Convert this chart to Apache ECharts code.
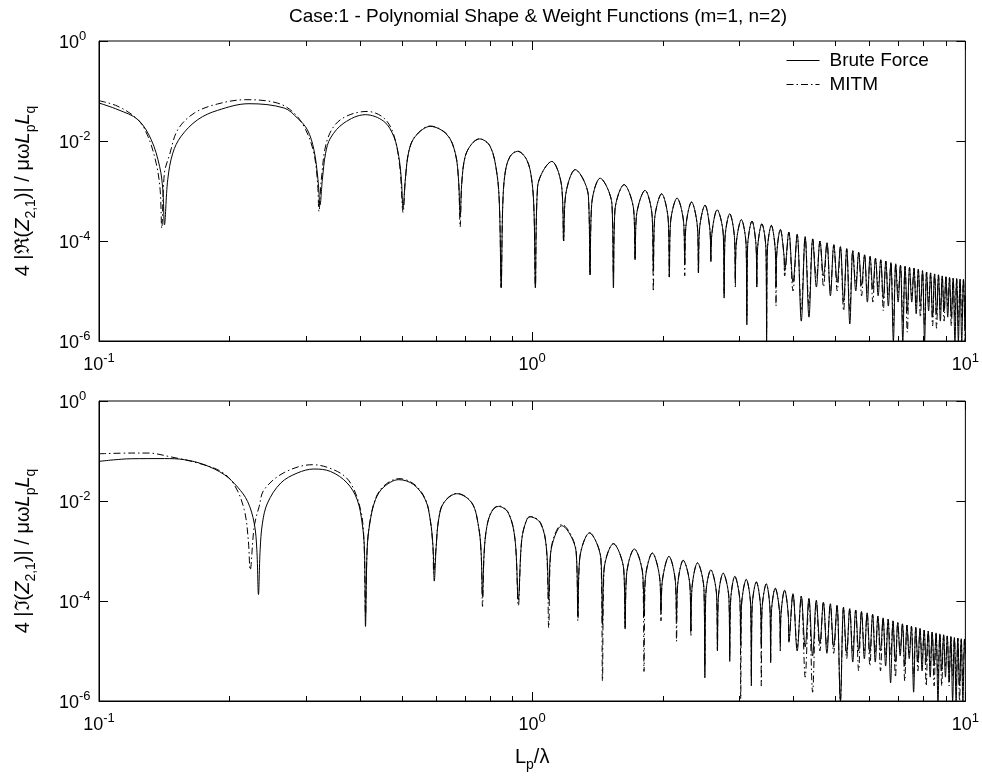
<!DOCTYPE html>
<html>
<head>
<meta charset="utf-8">
<script src="https://cdn.jsdelivr.net/npm/echarts@6/dist/echarts.min.js"></script>
<style>
  html, body { margin: 0; padding: 0; background: #fff; }
  #chart { width: 982px; height: 776px; }
</style>
</head>
<body>
<div id="chart"></div>
<script>
// values, [L_p/lambda, magnitude]
const reBrute = [
  [0.1,0.0575],[0.1106,0.0423],[0.123,0.0267],[0.132,0.0106],[0.138,0.0031],[0.1404,0.00106],[0.1416,0.00021],
  [0.1441,0.00168],[0.148,0.0057],[0.1547,0.0124],[0.169,0.0267],[0.1878,0.041],[0.222,0.0557],[0.2675,0.0457],[0.287,0.0288],[0.3027,0.0168],[0.3134,0.0067],[0.3203,0.00168],[0.3238,0.00053],
  [0.3278,0.00168],[0.3335,0.0057],[0.3423,0.0115],[0.3677,0.0229],[0.412,0.0336],[0.4546,0.0247],[0.479,0.0124],[0.492,0.0049],[0.4989,0.00168],[0.5035,0.00045],
  [0.5095,0.00168],[0.519,0.0062],[0.5375,0.0124],[0.5817,0.0196],[0.6357,0.0134],[0.6645,0.0057],[0.676,0.00168],[0.682,0.00031],
  [0.688,0.0015],[0.7004,0.0049],[0.7256,0.0088],[0.756,0.011],[0.7998,0.0078],[0.8286,0.0023],[0.8404,0.00049],[0.848,0.0000115],
  [0.855,0.00049],[0.866,0.0023],[0.889,0.0049],[0.925,0.0062],[0.9714,0.0042],[0.9975,0.00168],[1.01,0.00036],[1.017,0.0000115],
  [1.029,0.0012],[1.11,0.0039],[1.17,0.0012],[1.182,0.0001],
  [1.194,0.0008],[1.257,0.00267],[1.348,0.0008],[1.36,0.000021],
  [1.372,0.00054],[1.435,0.0018],[1.528,0.00054],[1.54,0.0000115],
  [1.552,0.0004],[1.63,0.00134],[1.716,0.0004],[1.728,0.000042],
  [1.74,0.00031],[1.822,0.00103],[1.892,0.00031],[1.904,0.000025],
  [1.916,0.00026],[1.99,0.00088],[2.061,0.00026],[2.073,0.000019],
  [2.085,0.00022],[2.16,0.00072],[2.238,0.00022],[2.25,0.000034],
  [2.262,0.00018],[2.333,0.0006],[2.408,0.00018],[2.42,0.000023],
  [2.432,0.00016],[2.506,0.00052],[2.573,0.00016],[2.585,0.000039],
  [2.597,0.00013],[2.673,0.00042],[2.762,0.00013],[2.774,0.0000072],
  [2.786,0.00011],[2.858,0.00035],[2.932,0.00011],[2.944,0.0000156],
  [2.956,0.00008],[3.04,0.000267],[3.118,0.00008],[3.13,0.0000021],
  [3.142,0.000075],[3.217,0.00025],[3.288,0.000075],[3.3,0.000012],
  [3.312,0.000066],[3.39,0.00022],[3.465,0.000066],[3.477,0.000001],
  [3.489,0.00006],[3.565,0.000205],[3.643,0.00006],[3.655,0.000012],
  [3.667,0.00005],[3.74,0.00017],[3.814,0.00005],[3.826,0.000025],
  [3.913,0.00015],[4.0,0.000015],[4.09,0.000135],[4.18,0.0000025],
  [4.267,0.000122],[4.355,0.000003],[4.442,0.00011],[4.53,0.000012],
  [4.617,0.0001],[4.705,0.00002],[4.792,0.000092],[4.88,0.000008],
  [4.97,0.000084],[5.06,0.000015],[5.147,0.000077],[5.235,0.000006],
  [5.322,0.00007],[5.41,0.0000022],[5.497,0.000064],[5.585,0.00001],
  [5.672,0.000059],[5.76,0.000013],[5.85,0.000053],[5.94,0.000006],
  [6.027,0.000049],[6.115,0.000011],[6.202,0.000045],[6.29,0.000008],
  [6.377,0.000042],[6.465,0.000007],[6.552,0.0000395],[6.64,0.000005],
  [6.73,0.000037],[6.82,0.000001],[6.907,0.000035],[6.995,0.000006],
  [7.082,0.000033],[7.17,0.000001],[7.257,0.000031],[7.345,0.000004],
  [7.432,0.0000295],[7.52,0.000006],[7.61,0.0000285],[7.7,0.0000035],
  [7.787,0.000027],[7.875,0.000005],[7.962,0.0000255],[8.05,0.000001],
  [8.137,0.000024],[8.225,0.000004],[8.312,0.000023],[8.4,0.000003],
  [8.49,0.000022],[8.58,0.0000035],[8.667,0.000021],[8.755,0.0000025],
  [8.842,0.00002],[8.93,0.000004],[9.017,0.0000192],[9.105,0.000003],
  [9.192,0.0000185],[9.28,0.000003],[9.37,0.000018],[9.46,0.000001],
  [9.547,0.0000176],[9.635,0.000001],[9.722,0.0000174],[9.81,0.000001],
  [9.897,0.0000172],[9.985,0.000002],[10,0.000008]
];

const reMitm = [
  [0.1,0.064],[0.1106,0.0493],[0.123,0.0267],[0.1297,0.0124],[0.1355,0.0036],[0.1384,0.00106],[0.1396,0.00018],
  [0.1416,0.0023],[0.1455,0.0053],[0.152,0.0168],[0.166,0.0363],[0.1878,0.055],[0.2183,0.067],[0.258,0.0575],[0.282,0.0363],[0.3,0.0168],[0.3134,0.0057],[0.3195,0.0015],[0.322,0.00039],
  [0.326,0.00168],[0.3365,0.0106],[0.361,0.0267],[0.4159,0.039],[0.4546,0.0288],[0.479,0.0134],[0.4946,0.0031],[0.5035,0.00037],
  [0.5095,0.00168],[0.519,0.0062],[0.5375,0.0126],[0.5817,0.0199],[0.6357,0.0136],[0.6645,0.0057],[0.676,0.00168],[0.682,0.00019],
  [0.688,0.0015],[0.7004,0.0049],[0.7256,0.0088],[0.756,0.0111],[0.7998,0.0078],[0.8286,0.0023],[0.8404,0.00049],[0.848,0.000012],
  [0.855,0.00049],[0.866,0.0023],[0.889,0.0049],[0.925,0.0063],[0.9714,0.0042],[0.9975,0.00168],[1.01,0.00036],[1.017,0.000012],
  [1.029,0.0012],[1.11,0.0039],[1.17,0.0012],[1.182,0.0001],
  [1.194,0.0008],[1.257,0.00267],[1.348,0.0008],[1.36,0.000021],
  [1.372,0.00054],[1.435,0.0018],[1.528,0.00054],[1.54,0.00002],
  [1.552,0.0004],[1.63,0.00134],[1.716,0.0004],[1.728,0.000042],
  [1.74,0.00031],[1.822,0.00103],[1.892,0.00031],[1.904,0.0000098],
  [1.916,0.00026],[1.99,0.00088],[2.061,0.00026],[2.073,0.000019],
  [2.085,0.00022],[2.16,0.00072],[2.238,0.00022],[2.25,0.00002],
  [2.262,0.00018],[2.333,0.0006],[2.408,0.00018],[2.42,0.000023],
  [2.432,0.00016],[2.506,0.00052],[2.573,0.00016],[2.585,0.000039],
  [2.597,0.00013],[2.673,0.00042],[2.762,0.00013],[2.774,0.000009],
  [2.786,0.00011],[2.858,0.00035],[2.932,0.00011],[2.944,0.000012],
  [2.956,0.00008],[3.04,0.000267],[3.118,0.00008],[3.13,0.000003],
  [3.142,0.000075],[3.217,0.00025],[3.288,0.000075],[3.3,0.000012],
  [3.312,0.000066],[3.39,0.00022],[3.465,0.000066],[3.477,0.0000015],
  [3.489,0.00006],[3.565,0.000205],[3.643,0.00006],[3.655,0.000005],
  [3.667,0.00005],[3.74,0.00017],[3.814,0.00005],[3.826,0.00002],
  [3.913,0.00015],[4.0,0.00001],[4.09,0.000135],[4.18,0.000004],
  [4.267,0.000122],[4.355,0.000005],[4.442,0.00011],[4.53,0.000018],
  [4.617,0.0001],[4.705,0.000012],[4.792,0.000092],[4.88,0.00001],
  [4.97,0.000084],[5.06,0.00001],[5.147,0.000077],[5.235,0.000004],
  [5.322,0.00007],[5.41,0.000004],[5.497,0.000064],[5.585,0.000014],
  [5.672,0.000059],[5.76,0.000008],[5.85,0.000053],[5.94,0.000009],
  [6.027,0.000049],[6.115,0.000006],[6.202,0.000045],[6.29,0.000012],
  [6.377,0.000042],[6.465,0.000004],[6.552,0.0000395],[6.64,0.000008],
  [6.73,0.000037],[6.82,0.000002],[6.907,0.000035],[6.995,0.000009],
  [7.082,0.000033],[7.17,0.0000025],[7.257,0.000031],[7.345,0.0000015],
  [7.432,0.0000295],[7.52,0.000008],[7.61,0.0000285],[7.7,0.000005],
  [7.787,0.000027],[7.875,0.000003],[7.962,0.0000255],[8.05,0.000002],
  [8.137,0.000024],[8.225,0.000006],[8.312,0.000023],[8.4,0.000002],
  [8.49,0.000022],[8.58,0.0000018],[8.667,0.000021],[8.755,0.000004],
  [8.842,0.00002],[8.93,0.0000025],[9.017,0.0000192],[9.105,0.000005],
  [9.192,0.0000185],[9.28,0.000002],[9.37,0.000018],[9.46,0.000003],
  [9.547,0.0000176],[9.635,0.000002],[9.722,0.0000174],[9.81,0.000003],
  [9.897,0.0000172],[9.985,0.000001],[10,0.000008]
];

const imBrute = [
  [0.1,0.062],[0.1187,0.07],[0.1416,0.0705],[0.1575,0.067],[0.175,0.0532],[0.1947,0.0336],[0.2089,0.019],[0.2203,0.0098],[0.2282,0.0036],[0.2314,0.00106],[0.2334,0.000134],
  [0.2355,0.00106],[0.2384,0.0036],[0.2449,0.0091],[0.2628,0.0229],[0.287,0.0363],[0.3134,0.0436],[0.3423,0.039],[0.374,0.0229],[0.3945,0.0106],[0.405,0.0036],[0.41,0.00106],[0.4123,0.000031],
  [0.4159,0.00106],[0.4219,0.0036],[0.4346,0.0106],[0.4544,0.019],[0.492,0.0267],[0.5328,0.0212],[0.5666,0.0106],[0.5817,0.0042],[0.5902,0.00124],[0.5943,0.00025],
  [0.6004,0.00124],[0.6081,0.0042],[0.6245,0.0091],[0.67,0.014],[0.7256,0.0091],[0.7519,0.0031],[0.7624,0.0009],[0.768,0.000124],
  [0.7745,0.0009],[0.786,0.0031],[0.8069,0.0062],[0.836,0.0078],[0.8815,0.0057],[0.9129,0.00168],[0.929,0.000106],
  [0.946,0.00168],[0.9713,0.0042],[0.99,0.0048],[1.045,0.0036],[1.078,0.0012],[1.092,0.000106],
  [1.104,0.00096],[1.171,0.0032],[1.263,0.00096],[1.275,0.000049],
  [1.287,0.00069],[1.356,0.0023],[1.441,0.00069],[1.453,0.000034],
  [1.465,0.00042],[1.54,0.0014],[1.627,0.00042],[1.639,0.0000275],
  [1.651,0.00033],[1.721,0.0011],[1.8,0.00033],[1.812,0.000049],
  [1.824,0.00027],[1.894,0.00091],[1.971,0.00027],[1.983,0.000057],
  [1.995,0.00023],[2.069,0.00078],[2.142,0.00023],[2.154,0.000042],
  [2.166,0.0002],[2.232,0.00065],[2.313,0.0002],[2.325,0.000025],
  [2.337,0.00017],[2.408,0.00058],[2.492,0.00017],[2.504,0.0000029],
  [2.516,0.00013],[2.585,0.00042],[2.665,0.00013],[2.677,0.0000106],
  [2.689,0.00011],[2.76,0.00036],[2.846,0.00011],[2.858,0.0000062],
  [2.87,0.000093],[2.936,0.00031],[3.018,0.000093],[3.03,0.000013],
  [3.042,0.00008],[3.12,0.00027],[3.194,0.00008],[3.206,0.000002],
  [3.218,0.000072],[3.292,0.00024],[3.368,0.000072],[3.38,0.000012],
  [3.392,0.000066],[3.471,0.00022],[3.54,0.000066],[3.552,0.0000058],
  [3.564,0.000054],[3.64,0.00018],[3.727,0.000054],[3.739,0.000013],
  [3.751,0.00005],[3.826,0.000165],[3.902,0.00005],[3.914,0.000016],
  [4.0,0.00014],[4.09,0.00001],[4.18,0.000125],[4.268,0.000012],
  [4.354,0.000113],[4.44,0.000008],[4.528,0.000103],[4.615,0.000014],
  [4.702,0.000095],[4.79,0.000009],[4.878,0.000088],[4.965,0.000012],
  [5.055,0.000081],[5.146,0.000001],[5.233,0.000075],[5.32,0.000009],
  [5.408,0.00007],[5.495,0.000006],[5.582,0.000066],[5.67,0.00001],
  [5.757,0.000062],[5.845,0.000007],[5.932,0.000058],[6.02,0.000009],
  [6.107,0.000054],[6.195,0.000006],[6.282,0.00005],[6.37,0.00001],
  [6.457,0.000046],[6.545,0.000005],[6.632,0.000043],[6.72,0.0000023],
  [6.807,0.00004],[6.895,0.000006],[6.982,0.000037],[7.07,0.000008],
  [7.157,0.000035],[7.245,0.000005],[7.332,0.000033],[7.42,0.000007],
  [7.507,0.000031],[7.595,0.0000015],[7.682,0.0000295],[7.77,0.000006],
  [7.857,0.000028],[7.945,0.000004],[8.032,0.000026],[8.12,0.000006],
  [8.207,0.000025],[8.295,0.000003],[8.382,0.000024],[8.47,0.000005],
  [8.557,0.000023],[8.645,0.000001],[8.732,0.000022],[8.82,0.000004],
  [8.907,0.000021],[8.995,0.000003],[9.082,0.00002],[9.17,0.000003],
  [9.257,0.0000193],[9.345,0.000001],[9.432,0.0000186],[9.52,0.000001],
  [9.607,0.000018],[9.695,0.000002],[9.782,0.0000176],[9.87,0.000001],
  [9.957,0.0000174],[10,0.000009]
];

const imMitm = [
  [0.1,0.088],[0.1187,0.091],[0.1297,0.091],[0.1467,0.076],[0.169,0.0575],[0.1912,0.039],[0.2052,0.0212],[0.2164,0.0067],[0.2211,0.00168],[0.2234,0.00042],
  [0.2282,0.0031],[0.2343,0.0078],[0.2405,0.0168],[0.2675,0.037],[0.311,0.0532],[0.355,0.039],[0.3807,0.0229],[0.4017,0.0067],[0.4088,0.00168],[0.4123,0.00005],
  [0.4159,0.0011],[0.4219,0.0038],[0.4346,0.011],[0.4544,0.02],[0.492,0.028],[0.5328,0.022],[0.5666,0.011],[0.5817,0.0042],[0.5902,0.0011],[0.5925,0.00036],
  [0.6004,0.0013],[0.6081,0.0043],[0.6245,0.0093],[0.67,0.0142],[0.7256,0.0092],[0.7519,0.0031],[0.7624,0.0009],[0.768,0.000078],
  [0.7745,0.0009],[0.786,0.0031],[0.8069,0.0063],[0.836,0.008],[0.8815,0.0058],[0.9129,0.0017],[0.929,0.00008],
  [0.946,0.0017],[0.9713,0.0043],[0.99,0.0049],[1.045,0.0037],[1.078,0.0012],[1.092,0.000029],
  [1.104,0.001],[1.171,0.0034],[1.263,0.001],[1.275,0.00004],
  [1.287,0.00069],[1.356,0.0023],[1.441,0.00069],[1.453,0.0000025],
  [1.465,0.00042],[1.54,0.0014],[1.627,0.00042],[1.639,0.00003],
  [1.651,0.00033],[1.721,0.0011],[1.8,0.00033],[1.812,0.0000039],
  [1.824,0.00027],[1.894,0.00091],[1.971,0.00027],[1.983,0.00004],
  [1.995,0.00023],[2.069,0.00078],[2.142,0.00023],[2.154,0.0000156],
  [2.166,0.0002],[2.232,0.00065],[2.313,0.0002],[2.325,0.00002],
  [2.337,0.00017],[2.408,0.00058],[2.492,0.00017],[2.504,0.000005],
  [2.516,0.00013],[2.585,0.00042],[2.665,0.00013],[2.677,0.00001],
  [2.689,0.00011],[2.76,0.00036],[2.846,0.00011],[2.858,0.000008],
  [2.87,0.000093],[2.936,0.00031],[3.018,0.000093],[3.03,0.0000011],
  [3.042,0.00008],[3.12,0.00027],[3.194,0.00008],[3.206,0.000003],
  [3.218,0.000072],[3.292,0.00024],[3.368,0.000072],[3.38,0.000002],
  [3.392,0.000066],[3.471,0.00022],[3.54,0.000066],[3.552,0.000006],
  [3.564,0.000054],[3.64,0.00018],[3.727,0.000054],[3.739,0.00001],
  [3.751,0.00005],[3.826,0.000165],[3.902,0.00005],[3.914,0.000015],
  [4.0,0.00014],[4.09,0.000012],[4.18,0.000125],[4.268,0.000003],
  [4.354,0.000113],[4.44,0.0000015],[4.528,0.000103],[4.615,0.00001],
  [4.702,0.000095],[4.79,0.000012],[4.878,0.000088],[4.965,0.000009],
  [5.055,0.000081],[5.146,0.000001],[5.233,0.000075],[5.32,0.000007],
  [5.408,0.00007],[5.495,0.00001],[5.582,0.000066],[5.67,0.000004],
  [5.757,0.000062],[5.845,0.00001],[5.932,0.000058],[6.02,0.000005],
  [6.107,0.000054],[6.195,0.000009],[6.282,0.00005],[6.37,0.000004],
  [6.457,0.000046],[6.545,0.000008],[6.632,0.000043],[6.72,0.000008],
  [6.807,0.00004],[6.895,0.000003],[6.982,0.000037],[7.07,0.00001],
  [7.157,0.000035],[7.245,0.0000025],[7.332,0.000033],[7.42,0.000009],
  [7.507,0.000031],[7.595,0.000003],[7.682,0.0000295],[7.77,0.000004],
  [7.857,0.000028],[7.945,0.000007],[8.032,0.000026],[8.12,0.000002],
  [8.207,0.000025],[8.295,0.000005],[8.382,0.000024],[8.47,0.000002],
  [8.557,0.000023],[8.645,0.000003],[8.732,0.000022],[8.82,0.000002],
  [8.907,0.000021],[8.995,0.000005],[9.082,0.00002],[9.17,0.000002],
  [9.257,0.0000193],[9.345,0.000003],[9.432,0.0000186],[9.52,0.000002],
  [9.607,0.000018],[9.695,0.000001],[9.782,0.0000176],[9.87,0.000002],
  [9.957,0.0000174],[10,0.000009]
];

const xMajorTicks = [0.1, 1, 10];
const xMinorTicks = [0.2, 0.3, 0.4, 0.5, 0.6, 0.7, 0.8, 0.9, 2, 3, 4, 5, 6, 7, 8, 9];
const yTicks = [1e-6, 1e-4, 1e-2, 1];

const FONT = "'Liberation Sans', Arial, Helvetica, sans-serif";
const chart = echarts.init(document.getElementById('chart'));

function powLabel(value) {
  const e = Math.round(Math.log10(value));
  return '{b|10}{s|' + e + '}';
}
const powRich = {
  b: { fontSize: 18, lineHeight: 18, padding: [5, 0, 0, 0], fontFamily: FONT, color: '#000' },
  s: { fontSize: 13, lineHeight: 13, padding: [0, 0, 10, 0], fontFamily: FONT, color: '#000' }
};
const nameRich = {
  n: { fontSize: 20, lineHeight: 22, padding: [0, 0, 6, 0], fontFamily: FONT, color: '#000' },
  i: { fontSize: 20, lineHeight: 22, padding: [0, 0, 6, 0], fontStyle: 'italic', fontFamily: FONT, color: '#000' },
  sub: { fontSize: 14, lineHeight: 14, padding: [11, 0, 0, 0], fontFamily: FONT, color: '#000' }
};

function makeX(idx, withName) {
  return {
    type: 'log', logBase: 10, gridIndex: idx, min: 0.1, max: 10,
    axisLine: { show: true, lineStyle: { color: '#000', width: 1 } },
    axisTick: { show: true, inside: true, length: 9, lineStyle: { color: '#000' } },
    axisLabel: { margin: 13, formatter: powLabel, rich: powRich },
    splitLine: { show: false },
    name: withName ? '{n|L}{sub|p}{n|/λ}' : '',
    nameLocation: 'middle', nameGap: 48,
    nameTextStyle: { rich: nameRich }
  };
}
function makeY(idx, name) {
  return {
    type: 'log', logBase: 10, gridIndex: idx, min: 1e-6, max: 1, interval: 2,
    axisLine: { show: true, lineStyle: { color: '#000', width: 1 } },
    axisTick: { show: true, inside: true, length: 9, lineStyle: { color: '#000' } },
    axisLabel: { align: 'left', margin: 40, formatter: powLabel, rich: powRich },
    splitLine: { show: false },
    name: name, nameLocation: 'middle', nameRotate: 90, nameGap: 62,
    nameTextStyle: { rich: nameRich }
  };
}

// extra tick marks (minor x ticks and the mirrored top / right ticks)
function tickSeries(idx) {
  return {
    type: 'custom', xAxisIndex: idx, yAxisIndex: idx, silent: true, z: 10,
    data: [[1, 0.01]],
    renderItem: function (params, api) {
      const kids = [];
      const yb = api.coord([1, 1e-6])[1];
      const yt = api.coord([1, 1])[1];
      const xr = api.coord([10, 1])[0];
      const seg = function (x1, y1, x2, y2) {
        return { type: 'line', shape: { x1: x1, y1: y1, x2: x2, y2: y2 }, style: { stroke: '#000', lineWidth: 1 } };
      };
      xMinorTicks.forEach(function (v) {
        const x = Math.round(api.coord([v, 1])[0]) + 0.5;
        kids.push(seg(x, yb, x, yb - 5), seg(x, yt, x, yt + 5));
      });
      xMajorTicks.forEach(function (v) {
        const x = Math.round(api.coord([v, 1])[0]) + 0.5;
        kids.push(seg(x, yt, x, yt + 9));
      });
      yTicks.forEach(function (v) {
        const y = Math.round(api.coord([1, v])[1]) + 0.5;
        kids.push(seg(xr, y, xr - 9, y));
      });
      return { type: 'group', children: kids };
    }
  };
}

function lineSeries(name, idx, data, dashed) {
  return {
    name: name, type: 'line', xAxisIndex: idx, yAxisIndex: idx, data: data,
    symbol: 'none', smooth: 0.35, animation: false,
    itemStyle: { color: '#000' },
    lineStyle: { color: '#000', width: 1, type: dashed ? [7, 3, 1.5, 3] : 'solid' }
  };
}

chart.setOption({
  animation: false,
  backgroundColor: '#fff',
  textStyle: { fontFamily: FONT },
  title: {
    text: 'Case:1 - Polynomial Shape & Weight Functions (m=1, n=2)',
    left: 533, top: 2, textAlign: 'center',
    textStyle: { fontSize: 19, fontWeight: 'normal', color: '#000', fontFamily: FONT }
  },
  legend: {
    data: ['Brute Force', 'MITM'], orient: 'vertical', left: 781, top: 46,
    itemWidth: 33, itemHeight: 14, itemGap: 5,
    itemStyle: { opacity: 0 },
    lineStyle: { width: 1 },
    textStyle: { fontSize: 19, color: '#000', fontFamily: FONT, padding: [0, 0, 0, 5] }
  },
  grid: [
    { left: 99, top: 41, width: 869, height: 300, show: true, borderColor: '#000', borderWidth: 1 },
    { left: 99, top: 401, width: 869, height: 300, show: true, borderColor: '#000', borderWidth: 1 }
  ],
  xAxis: [makeX(0, false), makeX(1, true)],
  yAxis: [
    makeY(0, '{n|4 |ℜ(}{i|Z}{sub|2,1}{n|)| / μω}{i|L}{sub|p}{i|L}{sub|q}'),
    makeY(1, '{n|4 |ℑ(}{i|Z}{sub|2,1}{n|)| / μω}{i|L}{sub|p}{i|L}{sub|q}')
  ],
  series: [
    lineSeries('Brute Force', 0, reBrute, false),
    lineSeries('MITM', 0, reMitm, true),
    lineSeries('Brute Force', 1, imBrute, false),
    lineSeries('MITM', 1, imMitm, true),
    tickSeries(0),
    tickSeries(1)
  ]
});
window.addEventListener('resize', function () { chart.resize(); });
</script>
</body>
</html>
